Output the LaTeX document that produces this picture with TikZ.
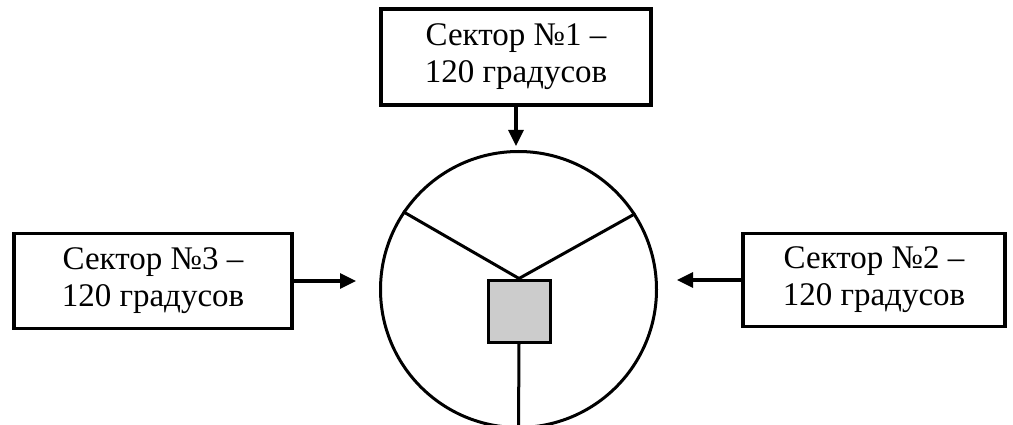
\documentclass[tikz,border=0pt]{standalone}
\usepackage{fontspec}
\setmainfont{Liberation Serif}
\usetikzlibrary{arrows.meta}
\begin{document}
\begin{tikzpicture}[x=1pt,y=-1pt,
  sectorbox/.style={draw,line width=3.2pt,align=center,inner sep=0pt,
    font=\fontsize{33}{37}\selectfont},
  link/.style={line width=3.2pt,-{Triangle[length=16pt,width=15pt]}},
  spoke/.style={line width=3pt}]
\useasboundingbox (0,0) rectangle (1013,425);
\clip (0,0) rectangle (1013,425);
\node[sectorbox,minimum width=270pt,minimum height=96pt] (s1) at (516,57)
  {Сектор №1 –\\120 градусов};
\node[sectorbox,minimum width=278pt,minimum height=95pt] (s3) at (153,281)
  {Сектор №3 –\\120 градусов};
\node[sectorbox,minimum width=262pt,minimum height=93pt] (s2) at (874,280)
  {Сектор №2 –\\120 градусов};
\node[draw,circle,line width=3pt,minimum size=276pt,inner sep=0pt] (wheel) at (518.5,289.5) {};
\node[draw,line width=3pt,fill=gray!40,minimum size=62pt,inner sep=0pt] (hub) at (519,311) {};
\coordinate (t1) at (516,146);
\coordinate (t3) at (356,281);
\coordinate (t2) at (677,280);
\draw[link] (s1.south) -- (t1);
\draw[link] (s3.east) -- (t3);
\draw[link] (s2.west) -- (t2);
\draw[spoke] (wheel.146.7) -- (hub.north) -- (wheel.33.3);
\draw[spoke] (hub.south) -- (wheel.south);
\end{tikzpicture}
\end{document}
